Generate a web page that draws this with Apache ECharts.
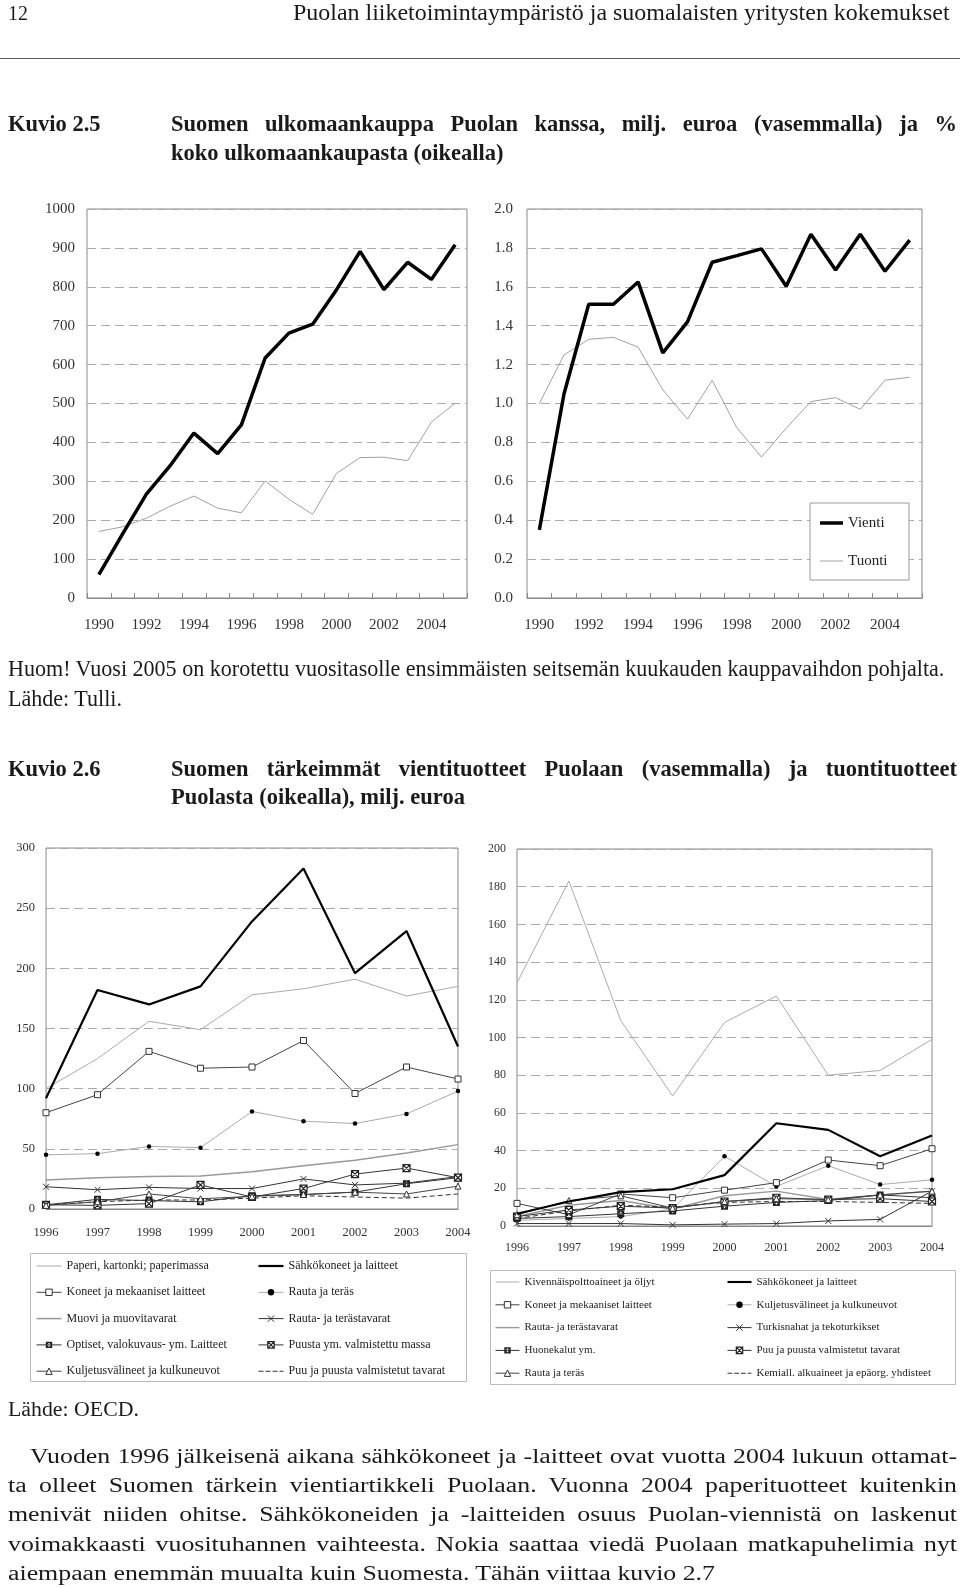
<!DOCTYPE html>
<html><head><meta charset="utf-8">
<script src="https://cdn.jsdelivr.net/npm/echarts@6/dist/echarts.min.js"></script>
<style>
html,body{margin:0;padding:0;background:#fff;}
#page{position:relative;width:960px;height:1588px;overflow:hidden;background:#fff;}
#chart{position:absolute;left:0;top:0;width:960px;height:1588px;}
.t{position:absolute;white-space:nowrap;font-family:"Liberation Serif",serif;color:#1a1a1a;line-height:1;transform-origin:0 50%;}
#rule{position:absolute;left:0;top:58px;width:960px;height:1px;background:#555;}
</style></head>
<body><div id="page"><div id="chart"></div><div id="rule"></div></div>
<script>
// ---------- DATA ----------
const years1 = ['1990','1991','1992','1993','1994','1995','1996','1997','1998','1999','2000','2001','2002','2003','2004','2005'];
const vientiEur = [60,165,267,340,424,371,445,617,681,704,792,891,793,863,819,908];
const tuontiEur = [171,183,205,236,262,231,219,301,254,215,320,361,362,353,452,501];
const vientiPct = [0.35,1.05,1.51,1.51,1.625,1.26,1.42,1.726,1.76,1.795,1.603,1.87,1.687,1.87,1.68,1.84];
const tuontiPct = [1.00,1.25,1.33,1.34,1.29,1.07,0.92,1.12,0.875,0.725,0.873,1.01,1.03,0.97,1.12,1.135];

const years2 = ['1996','1997','1998','1999','2000','2001','2002','2003','2004'];
// exports (left)
const paperiEx      = [100,125,156,149,178,183,191,177,185];
const sahkoEx       = [92,182,170,185,239,283,196,231,135];
const koneetEx      = [80,95,131,117,118,140,96,118,108];
const rautaTerasEx  = [45,46,52,51,81,73,71,79,98];
const muoviEx       = [24,26,27,27.5,31,36,40.5,46.5,53.5];
const rautaTavEx    = [18.5,16,18,17,17,25,20,21.5,27];
const optisetEx     = [3.5,8,7,6,11,12,14,21,26];
const puustaMassaEx = [3.5,3,4.5,20,10,17,29,34,26];
const kuljetusEx    = [3,6,12.5,8.5,10.5,12,14,12.5,19];
const puuTavEx      = [3.5,6,7.5,7.5,9,11,10,9,12.5];
// imports (right)
const kivennaisIm   = [129,183,109,69,108,122,80,82.5,99];
const sahkoIm       = [6.5,13,18,19.5,27,54.5,51,37,48];
const koneetIm      = [12,6,17,15,19,23,35,32,41];
const kuljetusIm    = [3,4,5,9,37,21,32,22,24.5];
const rautaTavIm    = [5,11,13.5,9,16,18.5,14,16.5,18.5];
const turkisIm      = [1.3,1.3,1.3,0.6,1,1.3,2.7,3.5,18.5];
const huonekalutIm  = [4,5,6.5,8,10.5,12.5,13.5,16.5,15];
const puuTavIm      = [5,8.5,10.5,9.5,13,15,14,14.5,13];
const rautaTerasIm  = [6,13.5,16,9.5,13,14.5,14,16.5,18.5];
const kemiallIm     = [4,8,11,10,12.5,13,13,12.5,12];

// ---------- TEXT ----------
const page = document.getElementById('page');
function addLine(L){
  const d=document.createElement('div'); d.className='t'; d.textContent=L.t;
  d.style.left=L.x+'px'; d.style.fontSize=L.fs+'px'; if(L.b) d.style.fontWeight='bold';
  page.appendChild(d);
  const w=d.getBoundingClientRect().width;
  let ret=L.fs;
  if(L.mode==='fit'){ ret=L.fs*L.w/w; d.style.fontSize=ret+'px'; }
  else if(L.mode==='just'){ const n=(L.t.match(/ /g)||[]).length; if(n) d.style.wordSpacing=((L.w-w)/n)+'px'; }
  else if(L.mode==='fitx'){ ret=L.w/w; d.style.transform='scaleX('+ret+')'; }
  else if(L.mode==='justx'){ const n=(L.t.match(/ /g)||[]).length; if(n) d.style.wordSpacing=((L.w/L.sx-w)/n)+'px'; d.style.transform='scaleX('+L.sx+')'; }
  const h=d.getBoundingClientRect().height; d.style.top=(L.y-h/2)+'px';
  return ret;
}
const HF=22.5;
addLine({t:'12',x:8,y:13,fs:20});
addLine({t:'Puolan liiketoimintaympäristö ja suomalaisten yritysten kokemukset',x:293,y:13,w:657,fs:21,mode:'fit'});
addLine({t:'Kuvio 2.5',x:8,y:124,fs:HF,b:1});
addLine({t:'Suomen ulkomaankauppa Puolan kanssa, milj. euroa (vasemmalla) ja %',x:171,y:124,w:786,fs:HF,b:1,mode:'just'});
addLine({t:'koko ulkomaankaupasta (oikealla)',x:171,y:153,fs:HF,b:1});
const nf=addLine({t:'Huom! Vuosi 2005 on korotettu vuositasolle ensimmäisten seitsemän kuukauden kauppavaihdon pohjalta.',x:8,y:669,w:937,fs:20,mode:'fit'});
addLine({t:'Lähde: Tulli.',x:8,y:699,fs:nf});
addLine({t:'Kuvio 2.6',x:8,y:769,fs:HF,b:1});
addLine({t:'Suomen tärkeimmät vientituotteet Puolaan (vasemmalla) ja tuontituotteet',x:171,y:769,w:786,fs:HF,b:1,mode:'just'});
addLine({t:'Puolasta (oikealla), milj. euroa',x:171,y:797,fs:HF,b:1});
addLine({t:'Lähde: OECD.',x:8,y:1410,w:131,fs:19,mode:'fit'});
const PF=20.5;
const psx=addLine({t:'aiempaan enemmän muualta kuin Suomesta. Tähän viittaa kuvio 2.7',x:8,y:1573,w:707,fs:PF,mode:'fitx'});
addLine({t:'Vuoden 1996 jälkeisenä aikana sähkökoneet ja -laitteet ovat vuotta 2004 lukuun ottamat-',x:30,y:1456,w:927,fs:PF,sx:psx,mode:'justx'});
addLine({t:'ta olleet Suomen tärkein vientiartikkeli Puolaan. Vuonna 2004 paperituotteet kuitenkin',x:8,y:1485,w:949,fs:PF,sx:psx,mode:'justx'});
addLine({t:'menivät niiden ohitse. Sähkökoneiden ja -laitteiden osuus Puolan-viennistä on laskenut',x:8,y:1514.5,w:949,fs:PF,sx:psx,mode:'justx'});
addLine({t:'voimakkaasti vuosituhannen vaihteesta. Nokia saattaa viedä Puolaan matkapuhelimia nyt',x:8,y:1544,w:949,fs:PF,sx:psx,mode:'justx'});

// ---------- CHART ----------
const FONT='Liberation Serif';
const SYM={
  x:'path://M0,0L10,10M10,0L0,10',
  sq:'path://M0,0H10V10H0Z',
  sqx:'path://M0,0H10V10H0ZM0,0L10,10M10,0L0,10',
  sqplus:'path://M0,0H10V10H0ZM4,2V4H2V6H4V8H6V6H8V4H6V2Z',
  tri:'path://M5,0L10,9H0Z'
};
const IS={
  x:{color:'rgba(0,0,0,0)',borderColor:'#333',borderWidth:1},
  sq:{color:'#fff',borderColor:'#333',borderWidth:1},
  sqx:{color:'#fff',borderColor:'#222',borderWidth:1.2},
  sqplus:{color:'#222',borderWidth:0},
  tri:{color:'#fff',borderColor:'#333',borderWidth:1},
  dot:{color:'#000',borderWidth:0}
};
function mk(name,data,idx,st){
  return {type:'line',name,data,xAxisIndex:idx,yAxisIndex:idx,animation:false,silent:true,
    symbol:st.symbol||'none',symbolSize:st.size||6,showSymbol:!!st.symbol,
    lineStyle:{color:st.color,width:st.width||1,type:st.dash?[5,3]:'solid'},
    itemStyle:st.item||{color:st.color},z:st.z||2,emphasis:{disabled:true}};
}
function leg(name,st){
  if(!st.symbol){
    const h=st.width||1;
    const icon=st.dash?'path://M0,0H5V1H0ZM7,0H12V1H7ZM14,0H19V1H14ZM21,0H25V1H21Z':('path://M0,0H25V'+h+'H0Z');
    return {name,icon,itemStyle:{color:st.color,borderWidth:0}};
  }
  return {name,itemStyle:Object.assign({},st.item),lineStyle:{color:st.color,width:st.width||1,type:'solid'}};
}
const Z='\u200b';
const S={
  vienti:{color:'#000',width:3.5,z:5},
  tuonti:{color:'#a0a0a0',width:1,z:3},
  paperi:{color:'#aaa',width:1,z:2},
  sahko:{color:'#000',width:2.2,z:6},
  koneet:{color:'#444',width:1,symbol:SYM.sq,size:6,item:IS.sq,z:4},
  rautaTerasEx:{color:'#aaa',width:1,symbol:'circle',size:4.5,item:IS.dot,z:3},
  muovi:{color:'#999',width:1.5,z:2},
  rautaTavEx:{color:'#333',width:1,symbol:SYM.x,size:6,item:IS.x,z:4},
  optiset:{color:'#333',width:1,symbol:SYM.sqplus,size:7,item:IS.sqplus,z:4},
  puustaMassa:{color:'#333',width:1,symbol:SYM.sqx,size:7,item:IS.sqx,z:4},
  kuljetusEx:{color:'#444',width:1,symbol:SYM.tri,size:6,item:IS.tri,z:4},
  puuTavEx:{color:'#333',width:1,dash:true,z:3},
  kivennais:{color:'#aaa',width:1,z:2},
  kuljetusIm:{color:'#aaa',width:1,symbol:'circle',size:4.5,item:IS.dot,z:3},
  rautaTavIm:{color:'#999',width:1.5,z:2},
  turkis:{color:'#333',width:1,symbol:SYM.x,size:6,item:IS.x,z:4},
  huonekalut:{color:'#333',width:1,symbol:SYM.sqplus,size:7,item:IS.sqplus,z:4},
  puuTavIm:{color:'#333',width:1,symbol:SYM.sqx,size:7,item:IS.sqx,z:4},
  rautaTerasIm:{color:'#444',width:1,symbol:SYM.tri,size:6,item:IS.tri,z:4},
  kemiall:{color:'#333',width:1,dash:true,z:3}
};
const N={
  paperi:'Paperi, kartonki; paperimassa', sahko:'Sähkökoneet ja laitteet', koneet:'Koneet ja mekaaniset laitteet',
  rautaTeras:'Rauta ja teräs', muovi:'Muovi ja muovitavarat', rautaTav:'Rauta- ja terästavarat',
  optiset:'Optiset, valokuvaus- ym. Laitteet', puustaMassa:'Puusta ym. valmistettu massa',
  kuljetus:'Kuljetusvälineet ja kulkuneuvot', puuTavEx:'Puu ja puusta valmistetut tavarat',
  kivennais:'Kivennäispolttoaineet ja öljyt', turkis:'Turkisnahat ja tekoturkikset', huonekalut:'Huonekalut ym.',
  puuTavIm:'Puu ja puusta valmistetut tavarat', kemiall:'Kemiall. alkuaineet ja epäorg. yhdisteet'
};
const series=[
  mk('Tuonti',tuontiEur,0,S.tuonti), mk('Vienti',vientiEur,0,S.vienti),
  mk('Tuonti',tuontiPct,1,S.tuonti), mk('Vienti',vientiPct,1,S.vienti),
  mk(N.paperi,paperiEx,2,S.paperi), mk(N.muovi,muoviEx,2,S.muovi), mk(N.rautaTeras,rautaTerasEx,2,S.rautaTerasEx),
  mk(N.puuTavEx,puuTavEx,2,S.puuTavEx), mk(N.koneet,koneetEx,2,S.koneet), mk(N.rautaTav,rautaTavEx,2,S.rautaTavEx),
  mk(N.optiset,optisetEx,2,S.optiset), mk(N.puustaMassa,puustaMassaEx,2,S.puustaMassa), mk(N.kuljetus,kuljetusEx,2,S.kuljetusEx),
  mk(N.sahko,sahkoEx,2,S.sahko),
  mk(N.kivennais+Z,kivennaisIm,3,S.kivennais), mk(N.rautaTav+Z,rautaTavIm,3,S.rautaTavIm), mk(N.kuljetus+Z,kuljetusIm,3,S.kuljetusIm),
  mk(N.kemiall+Z,kemiallIm,3,S.kemiall), mk(N.koneet+Z,koneetIm,3,S.koneet), mk(N.turkis+Z,turkisIm,3,S.turkis),
  mk(N.huonekalut+Z,huonekalutIm,3,S.huonekalut), mk(N.puuTavIm+Z,puuTavIm,3,S.puuTavIm), mk(N.rautaTeras+Z,rautaTerasIm,3,S.rautaTerasIm),
  mk(N.sahko+Z,sahkoIm,3,S.sahko)
];
const grids=[
  {left:87,top:209,width:380,height:389},
  {left:527,top:209,width:395,height:389},
  {left:46,top:848,width:412,height:361},
  {left:517,top:849,width:415,height:377}
].map(g=>Object.assign(g,{show:true,borderColor:'#888',borderWidth:1,backgroundColor:'transparent',outerBoundsMode:'none',containLabel:false}));
const dash={show:true,lineStyle:{color:'#aaa',width:1,type:[9,5]}};
function xa(i,data,top){
  return {type:'category',gridIndex:i,data,boundaryGap:!!top,
    axisLine:{show:true,lineStyle:{color:'#888'}},
    axisTick:top?{show:true,inside:true,length:5,interval:0,lineStyle:{color:'#888'}}:{show:false},
    axisLabel:{interval:top?1:0,margin:top?19.5:(i===2?17:16),fontFamily:FONT,fontSize:top?15:(i===2?12.5:12),lineHeight:top?15:12.5,color:'#333'},
    splitLine:{show:false}};
}
function ya(i,max,interval,fs,margin,fmt){
  return {type:'value',gridIndex:i,min:0,max,interval,axisLine:{show:false},axisTick:{show:false},
    axisLabel:{fontFamily:FONT,fontSize:fs,color:'#333',margin,formatter:fmt||(v=>String(v))},splitLine:dash};
}
const lt=(fs)=>({fontFamily:FONT,fontSize:fs,color:'#222',lineHeight:14});
const fmtLeg=n=>n.replace(/\u200b/g,'');
const option={
  animation:false,backgroundColor:'transparent',
  grid:grids,
  xAxis:[xa(0,years1,true),xa(1,years1,true),xa(2,years2,false),xa(3,years2,false)],
  yAxis:[ya(0,1000,100,15,12),ya(1,2,0.2,15,14,v=>v.toFixed(1)),ya(2,300,50,12.5,11),ya(3,200,20,12,11)],
  legend:[
    {orient:'vertical',left:820,top:515,itemGap:22,itemWidth:23,itemHeight:8,padding:0,selectedMode:false,z:10,
      textStyle:{fontFamily:FONT,fontSize:15,color:'#222',lineHeight:16},
      data:[{name:'Vienti',icon:'path://M0,0H23V3.5H0Z',itemStyle:{color:'#000',borderWidth:0}},
            {name:'Tuonti',icon:'path://M0,0H23V1H0Z',itemStyle:{color:'#a0a0a0',borderWidth:0}}]},
    {orient:'vertical',left:36,top:1259,itemGap:12.3,itemWidth:25,itemHeight:8,padding:0,selectedMode:false,textStyle:lt(12),formatter:fmtLeg,
      data:[leg(N.paperi,S.paperi),leg(N.koneet,S.koneet),leg(N.muovi,S.muovi),leg(N.optiset,S.optiset),leg(N.kuljetus,S.kuljetusEx)]},
    {orient:'vertical',left:258,top:1259,itemGap:12.3,itemWidth:25,itemHeight:8,padding:0,selectedMode:false,textStyle:lt(12),formatter:fmtLeg,
      data:[leg(N.sahko,S.sahko),leg(N.rautaTeras,S.rautaTerasEx),leg(N.rautaTav,S.rautaTavEx),leg(N.puustaMassa,S.puustaMassa),leg(N.puuTavEx,S.puuTavEx)]},
    {orient:'vertical',left:495,top:1275,itemGap:8.8,itemWidth:24,itemHeight:8,padding:0,selectedMode:false,textStyle:lt(11),formatter:fmtLeg,
      data:[leg(N.kivennais+Z,S.kivennais),leg(N.koneet+Z,S.koneet),leg(N.rautaTav+Z,S.rautaTavIm),leg(N.huonekalut+Z,S.huonekalut),leg(N.rautaTeras+Z,S.rautaTerasIm)]},
    {orient:'vertical',left:727,top:1275,itemGap:8.8,itemWidth:24,itemHeight:8,padding:0,selectedMode:false,textStyle:lt(11),formatter:fmtLeg,
      data:[leg(N.sahko+Z,S.sahko),leg(N.kuljetus+Z,S.kuljetusIm),leg(N.turkis+Z,S.turkis),leg(N.puuTavIm+Z,S.puuTavIm),leg(N.kemiall+Z,S.kemiall)]}
  ],
  graphic:{elements:[
    {type:'rect',z:8,silent:true,shape:{x:810,y:503,width:99,height:77},style:{fill:'#fff',stroke:'#999',lineWidth:1}},
    {type:'rect',z:1,silent:true,shape:{x:30.5,y:1253.5,width:436,height:128},style:{fill:'none',stroke:'#bbb',lineWidth:1}},
    {type:'rect',z:1,silent:true,shape:{x:490.5,y:1270.5,width:465,height:114},style:{fill:'none',stroke:'#bbb',lineWidth:1}}
  ]},
  series
};
const chart=echarts.init(document.getElementById('chart'),null,{renderer:'canvas',width:960,height:1588});
chart.setOption(option);
</script>
</body></html>
